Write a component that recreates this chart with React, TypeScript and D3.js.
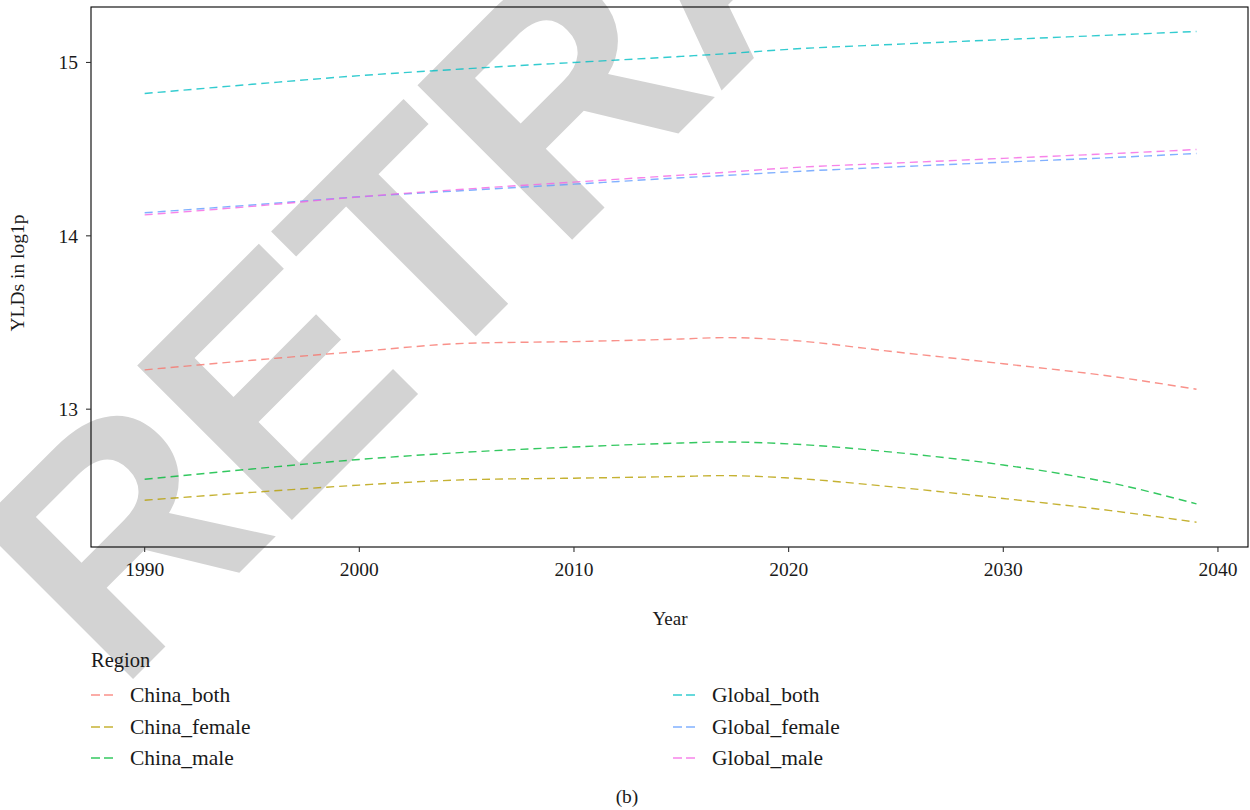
import React from "react";
import * as d3 from "d3";

const years = [1990, 1995, 2000, 2005, 2010, 2015, 2017, 2020, 2025, 2030, 2035, 2039];
const chinaBoth = [13.227, 13.282, 13.333, 13.38, 13.39, 13.405, 13.413, 13.398, 13.33, 13.262, 13.19, 13.115];
const chinaFemale = [12.475, 12.52, 12.562, 12.593, 12.602, 12.612, 12.617, 12.603, 12.55, 12.485, 12.415, 12.348];
const chinaMale = [12.596, 12.655, 12.71, 12.752, 12.782, 12.805, 12.811, 12.8, 12.75, 12.678, 12.575, 12.454];
const globalBoth = [14.821, 14.874, 14.924, 14.964, 15.0, 15.035, 15.05, 15.076, 15.105, 15.132, 15.158, 15.179];
const globalFemale = [14.133, 14.178, 14.225, 14.262, 14.298, 14.335, 14.348, 14.369, 14.398, 14.425, 14.451, 14.475];
const globalMale = [14.121, 14.17, 14.225, 14.27, 14.31, 14.35, 14.366, 14.392, 14.42, 14.447, 14.474, 14.498];

const seriesNames = ["China_both", "China_female", "China_male", "Global_both", "Global_female", "Global_male"];
const seriesValues = [chinaBoth, chinaFemale, chinaMale, globalBoth, globalFemale, globalMale];
const seriesColors = ["#F8766D", "#B79F00", "#00BA38", "#00BFC4", "#619CFF", "#F564E3"];

const xTicks = [1990, 2000, 2010, 2020, 2030, 2040];
const yTicks = [13, 14, 15];

const FONT = "'Liberation Serif', 'Times New Roman', serif";
const TXT = "#1a1a1a";

export default function App() {
  const left = 91, right = 1248, top = 7, bottom = 547;
  const x = d3.scaleLinear().domain([1987.5, 2041.4]).range([left, right]);
  const y = d3.scaleLinear().domain([12.205, 15.32]).range([bottom, top]);
  const line = d3
    .line<[number, number]>()
    .x((d) => x(d[0]))
    .y((d) => y(d[1]))
    .curve(d3.curveMonotoneX);

  const legendRows = [695, 727, 758];
  const legendCols = [{ kx: 91, tx: 130 }, { kx: 673, tx: 712 }];

  return (
    <svg
      width={1250}
      height={810}
      style={{ position: "absolute", left: 0, top: 0, background: "#fff" }}
      fontFamily={FONT}
    >
      <rect x={0} y={0} width={1250} height={810} fill="#fff" />
      {/* watermark */}
      <text
        transform="translate(118,694) rotate(-45)"
        fontFamily="'Liberation Sans', Arial, sans-serif"
        fontWeight="bold"
        fontSize={318}
        letterSpacing={-5}
        fill="#d3d3d3"
      >
        RETRACTED
      </text>

      {/* lines */}
      {seriesValues.map((vals, i) => (
        <path
          key={seriesNames[i]}
          d={line(years.map((yr, j) => [yr, vals[j]] as [number, number])) || ""}
          fill="none"
          stroke={seriesColors[i]}
          strokeOpacity={0.8}
          strokeWidth={1.4}
          strokeDasharray="8,5"
        />
      ))}

      {/* panel border */}
      <rect x={left} y={top} width={right - left} height={bottom - top} fill="none" stroke="#000" strokeWidth={1.1} />

      {/* y axis */}
      {yTicks.map((t) => (
        <g key={t}>
          <line x1={left - 5} x2={left} y1={y(t)} y2={y(t)} stroke="#333" strokeWidth={1.1} />
          <text x={left - 13} y={y(t)} dy="0.35em" textAnchor="end" fontSize={19.5} fill={TXT}>
            {t}
          </text>
        </g>
      ))}
      {/* x axis */}
      {xTicks.map((t) => (
        <g key={t}>
          <line x1={x(t)} x2={x(t)} y1={bottom} y2={bottom + 5} stroke="#333" strokeWidth={1.1} />
          <text x={x(t)} y={576} textAnchor="middle" fontSize={19.5} fill={TXT}>
            {t}
          </text>
        </g>
      ))}

      <text x={670} y={625} textAnchor="middle" fontSize={19} fill={TXT}>
        Year
      </text>
      <text
        transform={`translate(24,${(top + bottom) / 2 - 4}) rotate(-90)`}
        textAnchor="middle"
        fontSize={19.5}
        fill={TXT}
      >
        YLDs in log1p
      </text>

      {/* legend */}
      <text x={91} y={667} fontSize={20.5} fill={TXT}>
        Region
      </text>
      {seriesNames.map((name, i) => {
        const col = legendCols[Math.floor(i / 3)];
        const ry = legendRows[i % 3];
        return (
          <g key={name}>
            <line
              x1={col.kx}
              x2={col.kx + 22}
              y1={ry}
              y2={ry}
              stroke={seriesColors[i]}
              strokeOpacity={0.8}
              strokeWidth={1.4}
              strokeDasharray="9,4"
            />
            <text x={col.tx} y={ry} dy="0.33em" fontSize={21.5} fill={TXT}>
              {name}
            </text>
          </g>
        );
      })}

      <text x={627} y={803} textAnchor="middle" fontSize={19.5} fill={TXT}>
        (b)
      </text>
    </svg>
  );
}
